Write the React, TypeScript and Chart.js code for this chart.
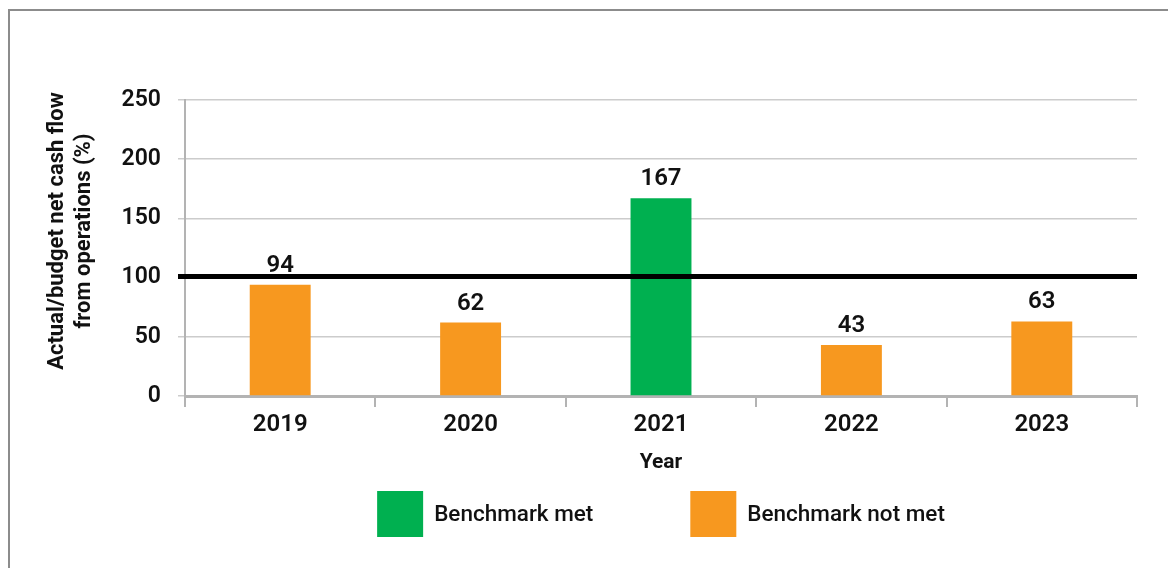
import React, { useEffect, useRef } from "react";
import { Chart, registerables } from "chart.js";

Chart.register(...registerables);

// Chart data
const YEARS = ["2019", "2020", "2021", "2022", "2023"];
const RATIOS = [94, 62, 167, 43, 63];
const BENCHMARK = 100;
const Y_TICKS = [0, 50, 100, 150, 200, 250];
const Y_TITLE_LINES = ["Actual/budget net cash flow", "from operations (%)"];
const X_TITLE = "Year";
const LEGEND_LABELS = ["Benchmark met", "Benchmark not met"];

const MET_COLOR = "#00B050";
const NOT_MET_COLOR = "#F7981F";
const LEGEND_COLORS = [MET_COLOR, NOT_MET_COLOR];

const FONT = "Roboto, 'Noto Sans', sans-serif";
const TEXT_COLOR = "#111111";
const AXIS_GRAY = "#b3b3b3";
const GRID_GRAY = "#cccccc";
const Y_TICK_LEN = 7;

// Thick black reference line at the benchmark value, drawn over the bars
const benchmarkLine = {
  id: "benchmarkLine",
  afterDatasetsDraw(chart: any) {
    const { ctx, chartArea, scales } = chart;
    const y = scales.y.getPixelForValue(BENCHMARK) - 1;
    ctx.save();
    ctx.strokeStyle = "#000000";
    ctx.lineWidth = 5;
    ctx.beginPath();
    ctx.moveTo(chartArea.left - Y_TICK_LEN, y);
    ctx.lineTo(chartArea.right, y);
    ctx.stroke();
    ctx.restore();
  },
};

// Value written above each bar
const valueLabels = {
  id: "valueLabels",
  afterDatasetsDraw(chart: any) {
    const { ctx } = chart;
    const meta = chart.getDatasetMeta(0);
    ctx.save();
    ctx.font = `600 24px ${FONT}`;
    ctx.fillStyle = TEXT_COLOR;
    ctx.textAlign = "center";
    ctx.textBaseline = "bottom";
    meta.data.forEach((bar: any, i: number) => {
      ctx.fillText(String(RATIOS[i]), bar.x, bar.y - 7);
    });
    ctx.restore();
  },
};

// Two-line rotated title beside the value axis
const yAxisTitle = {
  id: "yAxisTitle",
  afterDraw(chart: any) {
    const { ctx, chartArea } = chart;
    const cy = (chartArea.top + chartArea.bottom) / 2 - 17;
    ctx.save();
    ctx.translate(57, cy);
    ctx.rotate(-Math.PI / 2);
    ctx.font = `700 22px ${FONT}`;
    ctx.fillStyle = TEXT_COLOR;
    ctx.textAlign = "center";
    ctx.textBaseline = "middle";
    Y_TITLE_LINES.forEach((line, i) => ctx.fillText(line, 0, i * 27));
    ctx.restore();
  },
};

// Square-swatch legend centred under the plot area
const swatchLegend = {
  id: "swatchLegend",
  afterDraw(chart: any) {
    const { ctx, chartArea } = chart;
    const box = 46;
    const textGap = 11;
    const itemGap = 97;
    ctx.save();
    ctx.font = `500 22.5px ${FONT}`;
    const widths = LEGEND_LABELS.map((t) => ctx.measureText(t).width);
    const total =
      widths.reduce((s, w) => s + box + textGap + w, 0) +
      itemGap * (LEGEND_LABELS.length - 1);
    let x = (chartArea.left + chartArea.right) / 2 - total / 2;
    const top = chartArea.bottom + 95;
    ctx.textAlign = "left";
    ctx.textBaseline = "middle";
    LEGEND_LABELS.forEach((label, i) => {
      ctx.fillStyle = LEGEND_COLORS[i];
      ctx.fillRect(x, top, box, box);
      ctx.fillStyle = TEXT_COLOR;
      ctx.fillText(label, x + box + textGap, top + box / 2 + 1);
      x += box + textGap + widths[i] + itemGap;
    });
    ctx.restore();
  },
};

export default function App() {
  const canvasRef = useRef<HTMLCanvasElement | null>(null);

  useEffect(() => {
    if (!canvasRef.current) return;
    const chart = new Chart(canvasRef.current, {
      type: "bar",
      data: {
        labels: YEARS,
        datasets: [
          {
            data: RATIOS,
            backgroundColor: RATIOS.map((v) =>
              v >= BENCHMARK ? MET_COLOR : NOT_MET_COLOR
            ),
            categoryPercentage: 1,
            barPercentage: 0.32,
          },
        ],
      },
      options: {
        responsive: false,
        animation: false,
        layout: { padding: { left: 30, top: 100, right: 31, bottom: 82 } },
        plugins: {
          legend: { display: false },
          tooltip: { enabled: false },
        },
        scales: {
          x: {
            afterFit: (scale: any) => {
              scale.height = 90;
            },
            grid: {
              drawOnChartArea: false,
              drawTicks: true,
              tickLength: 11,
              color: AXIS_GRAY,
              lineWidth: 2,
            },
            border: { display: true, color: AXIS_GRAY, width: 3 },
            ticks: {
              color: TEXT_COLOR,
              padding: 4,
              font: { family: FONT, size: 24, weight: "600" },
            },
            title: {
              display: true,
              text: X_TITLE,
              color: TEXT_COLOR,
              padding: { top: 0, bottom: 11 },
              font: { family: FONT, size: 21, weight: "bold" },
            },
          },
          y: {
            min: Y_TICKS[0],
            max: Y_TICKS[Y_TICKS.length - 1],
            afterFit: (scale: any) => {
              scale.width = 155;
            },
            ticks: {
              stepSize: Y_TICKS[1] - Y_TICKS[0],
              color: TEXT_COLOR,
              padding: 17,
              font: { family: FONT, size: 23, weight: "600" },
            },
            grid: {
              color: GRID_GRAY,
              lineWidth: 1.5,
              tickLength: Y_TICK_LEN,
            },
            border: { display: true, color: AXIS_GRAY, width: 2 },
          },
        },
      },
      plugins: [benchmarkLine, valueLabels, yAxisTitle, swatchLegend],
    });
    return () => chart.destroy();
  }, []);

  return (
    <div
      style={{
        position: "fixed",
        left: 0,
        top: 0,
        width: 1168,
        height: 568,
        overflow: "hidden",
        background: "#ffffff",
      }}
    >
      <div
        style={{
          position: "absolute",
          left: 8,
          top: 9,
          width: 1300,
          height: 700,
          border: "2px solid #8c8c8c",
        }}
      />
      <canvas
        ref={canvasRef}
        width={1168}
        height={568}
        style={{ position: "absolute", left: 0, top: 0 }}
      />
    </div>
  );
}
